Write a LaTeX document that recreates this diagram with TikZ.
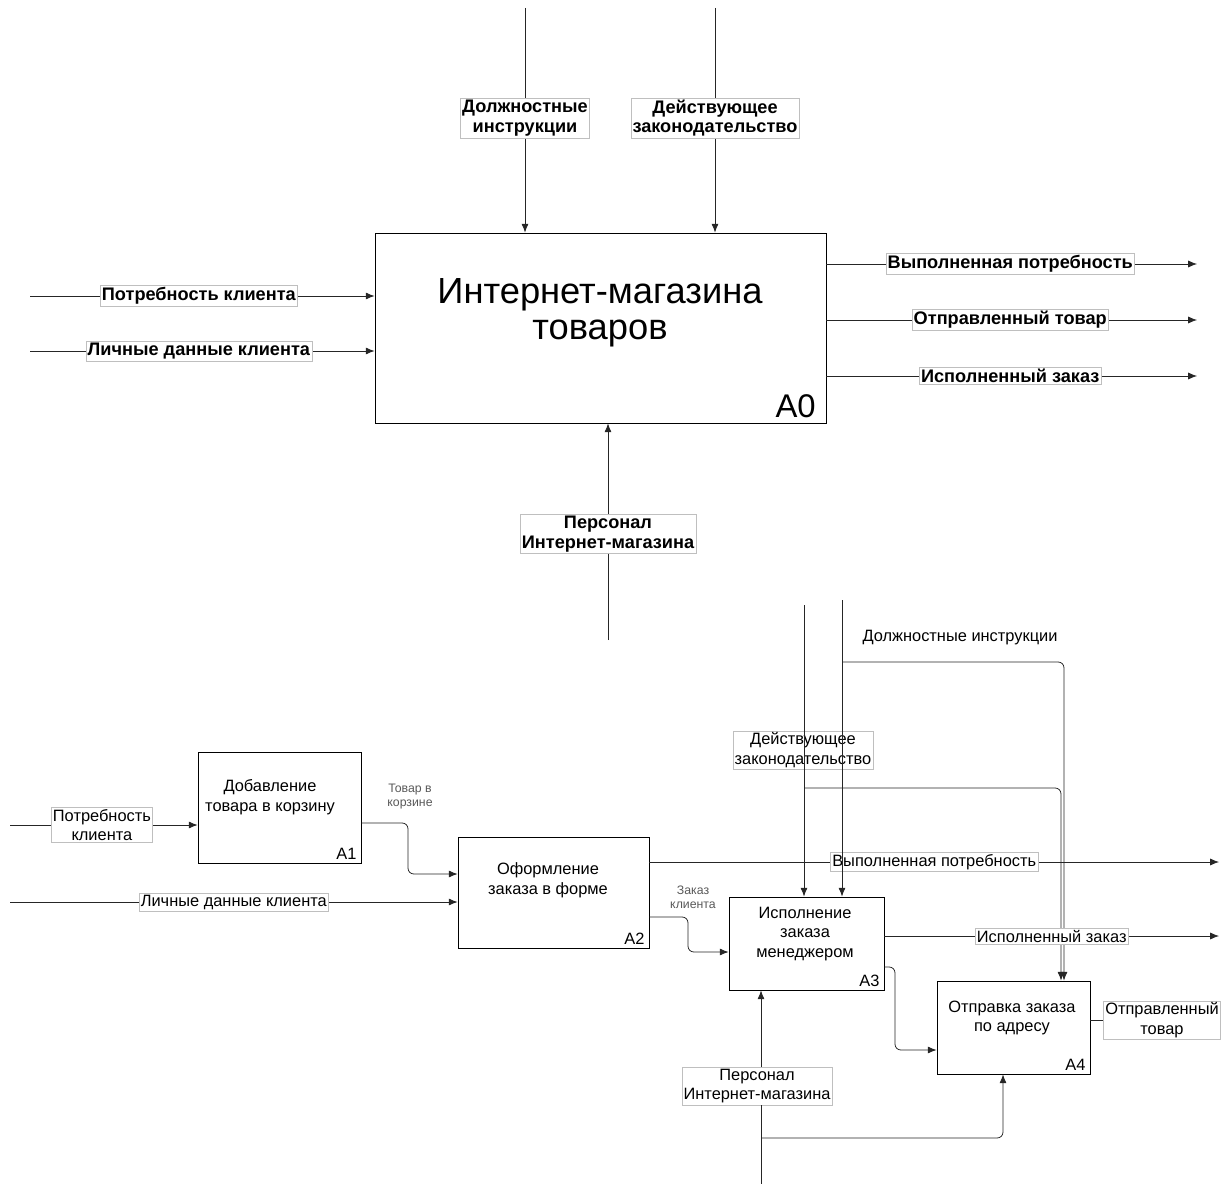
\documentclass[tikz,border=0pt]{standalone}
\usepackage{fontspec}
\setmainfont{Liberation Sans}
\usetikzlibrary{arrows.meta,calc}
\begin{document}
\begin{tikzpicture}[x=0.03cm,y=-0.03cm,
  flow/.style={draw=black!85,line width=0.65pt,-{Latex[length=7.5pt,width=6pt]}},
  plain/.style={draw=black!85,line width=0.65pt},
  rnd/.style={rounded corners=5pt},
  fbox/.style={draw=black,line width=0.7pt,fill=white,inner sep=0pt},
  toplbl/.style={fill=white,draw=black!25,line width=0.4pt,inner xsep=1.5pt,inner ysep=1.5pt,align=center,font=\fontsize{15.5}{17}\selectfont\bfseries},
  botlbl/.style={fill=white,draw=black!25,line width=0.4pt,inner xsep=1.5pt,inner ysep=1.5pt,align=center,font=\fontsize{14}{16.5}\selectfont},
  boxtxt/.style={align=center,font=\fontsize{14}{17}\selectfont},
  smalltxt/.style={align=center,text=black!65,font=\fontsize{10.5}{12}\selectfont},
  idlbl/.style={anchor=south east,inner sep=0pt,font=\fontsize{14}{14}\selectfont},
]
\useasboundingbox (0,0) rectangle (1221,1184);

% ================= TOP: A0 =================
\node[fbox,minimum width=13.53cm,minimum height=5.7cm] (a0) at (600.5,328) {};
\node[align=center,font=\fontsize{31}{31}\selectfont] (a0t) at (600,313) {Интернет-магазина\\товаров};
\node[idlbl,font=\fontsize{28}{28}\selectfont] (a0id) at ([shift={(-9pt,5pt)}]a0.south east) {A0};

% controls
\coordinate (c1top) at (525,8);
\coordinate (c2top) at (715,8);
\draw[flow] (c1top) -- (c1top |- a0.north) node[toplbl,pos=0.49] (lc1) {Должностные\\инструкции};
\draw[flow] (c2top) -- (c2top |- a0.north) node[toplbl,pos=0.49] (lc2) {Действующее\\законодательство};

% inputs
\coordinate (in1) at (30,296);
\coordinate (in2) at (30,351);
\draw[flow] (in1) -- (a0.west |- in1) node[toplbl,pos=0.49] (li1) {Потребность клиента};
\draw[flow] (in2) -- (a0.west |- in2) node[toplbl,pos=0.49] (li2) {Личные данные клиента};

% outputs
\coordinate (out1) at (1197,264);
\coordinate (out2) at (1197,320);
\coordinate (out3) at (1197,376);
\draw[flow] (a0.east |- out1) -- (out1) node[toplbl,pos=0.496] (lo1) {Выполненная потребность};
\draw[flow] (a0.east |- out2) -- (out2) node[toplbl,pos=0.496] (lo2) {Отправленный товар};
\draw[flow] (a0.east |- out3) -- (out3) node[toplbl,pos=0.496] (lo3) {Исполненный заказ};

% mechanism
\coordinate (m0) at (608,640);
\draw[flow] (m0) -- (m0 |- a0.south) node[toplbl,pos=0.49] (lm0) {Персонал\\Интернет-магазина};

% ================= BOTTOM: decomposition =================
\node[fbox,minimum width=4.89cm,minimum height=3.33cm] (a1) at (279.5,807.5) {};
\node[fbox,minimum width=5.73cm,minimum height=3.33cm] (a2) at (553.5,892.5) {};
\node[fbox,minimum width=4.65cm,minimum height=2.79cm] (a3) at (806.5,943.5) {};
\node[fbox,minimum width=4.59cm,minimum height=2.79cm] (a4) at (1013.5,1027.5) {};

\node[boxtxt] (a1t) at (270,797) {Добавление\\товара в корзину};
\node[boxtxt] (a2t) at (548,880) {Оформление\\заказа в форме};
\node[boxtxt] (a3t) at (805,934) {Исполнение\\заказа\\менеджером};
\node[boxtxt] (a4t) at (1012,1018) {Отправка заказа\\по адресу};

\node[idlbl] (a1id) at ([shift={(-4pt,3pt)}]a1.south east) {A1};
\node[idlbl] (a2id) at ([shift={(-4pt,3pt)}]a2.south east) {A2};
\node[idlbl] (a3id) at ([shift={(-4pt,3pt)}]a3.south east) {A3};
\node[idlbl] (a4id) at ([shift={(-4pt,3pt)}]a4.south east) {A4};

% inputs
\coordinate (bin1) at (10,825);
\coordinate (bin2) at (10,902);
\draw[flow] (bin1) -- (a1.west |- bin1) node[botlbl,pos=0.49] (lbi1) {Потребность\\клиента};
\draw[flow] (bin2) -- (a2.west |- bin2) node[botlbl,pos=0.5] (lbi2) {Личные данные клиента};

% A1 -> A2
\draw[flow,rnd] (a1.east |- 0,823) -- (408,823) -- (408,874) -- (a2.west |- 0,874);
\node[smalltxt] (ltk) at (410,797) {Товар в\\корзине};

% A2 -> A3
\draw[flow,rnd] (a2.east |- 0,917) -- (688,917) -- (688,952) -- (a3.west |- 0,952);
\node[smalltxt] (lzk) at (693,897) {Заказ\\клиента};

% A3 -> A4
\draw[flow,rnd] (a3.east |- 0,967) -- (895,967) -- (895,1050) -- (a4.west |- 0,1050);

% controls
\coordinate (bc1) at (804,605);
\coordinate (bc2) at (842,600);
\draw[flow,rnd] (bc1 |- 0,788) -- (1061,788) -- (1061,0 |- a4.north);
\draw[flow,rnd] (bc2 |- 0,662) -- (1064,662) -- (1064,0 |- a4.north);
\node[botlbl,draw=none,fill=none] (lbc2) at (960,638) {Должностные инструкции};

% outputs
\coordinate (bout1) at (1219,862);
\coordinate (bout2) at (1219,936);
\draw[flow] (a2.east |- bout1) -- (bout1) node[botlbl,pos=0.50] (lbo1) {Выполненная потребность};
\draw[flow] (a3.east |- bout2) -- (bout2) node[botlbl,pos=0.50] (lbo2) {Исполненный заказ};
\node[botlbl] (lbo3) at (1162,1020) {Отправленный\\товар};
\draw[plain] (a4.east |- lbo3) -- (lbo3.west);

% mechanism
\coordinate (bm) at (761,1184);
\draw[flow,rnd] (bm |- 0,1138) -- (1003,1138) -- (1003,0 |- a4.south);

% verticals drawn over labels
\node[botlbl] (lbc1) at (803,750) {Действующее\\законодательство};
\node[botlbl] (lbm) at (757,1086) {Персонал\\Интернет-магазина};
\draw[flow] (bc1) -- (bc1 |- a3.north);
\draw[flow] (bc2) -- (bc2 |- a3.north);
\draw[plain] (bm) -- (lbm.south -| bm);
\draw[flow] (lbm.north -| bm) -- (bm |- a3.south);
\end{tikzpicture}
\end{document}
